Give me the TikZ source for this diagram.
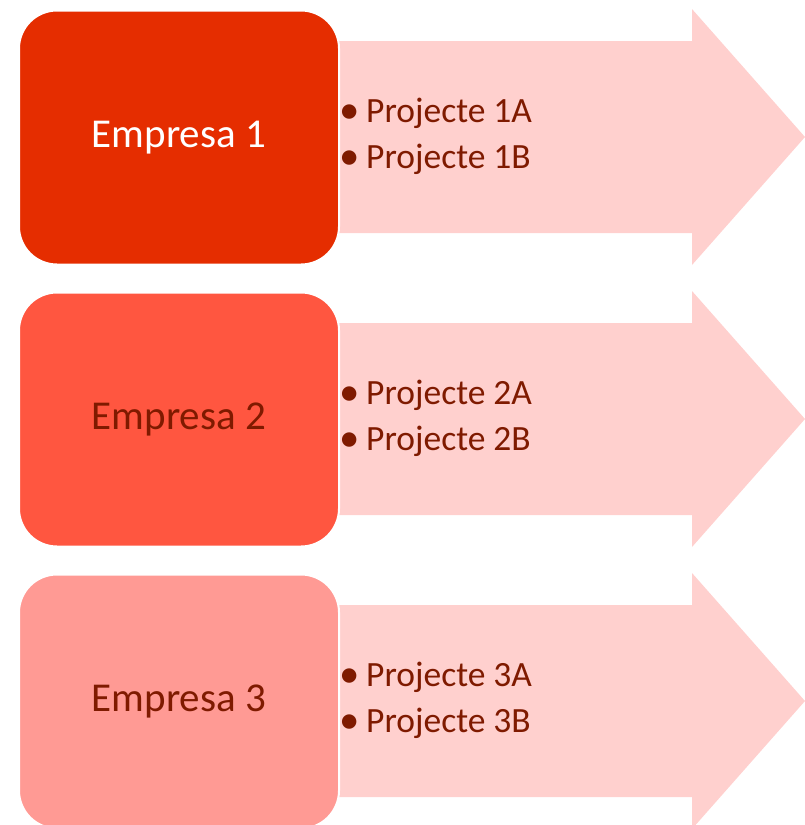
\documentclass[tikz,border=0pt]{standalone}
\usepackage{fontspec}
\setmainfont{Carlito}
\definecolor{arrowc}{HTML}{FFD0CE}
\definecolor{boxa}{HTML}{E52D00}
\definecolor{boxb}{HTML}{FF5640}
\definecolor{boxc}{HTML}{FF9A94}
\definecolor{txtd}{HTML}{7F1A00}
\newcommand{\bigbul}{\makebox[24pt][l]{\hspace{-3pt}\raisebox{-0.04em}{\scalebox{1.15}{\textbullet}}}}
\tikzset{
  company/.style={draw=white, line width=2pt, rounded corners=38pt, minimum width=320pt, minimum height=254pt, inner sep=0pt, anchor=north west, font=\fontsize{41}{48}\selectfont},
  items/.style={anchor=west, align=left, inner sep=0pt, text=txtd, font=\fontsize{35.5}{46}\selectfont},
}
\begin{document}
\begin{tikzpicture}[x=1pt,y=-1pt]
\useasboundingbox (0,0) rectangle (805,825);
\foreach \i/\c/\t/\n in {0/boxa/white/1, 1/boxb/txtd/2, 2/boxc/txtd/3}{
  \begin{scope}[yshift=-282*\i]
    \fill[arrowc] (337,41) -- (692,41) -- (692,9) -- (805,137) -- (692,265) -- (692,233) -- (337,233) -- cycle;
    \node[company, fill=\c, text=\t] (e\n) at (18,9.5) {Empresa \n};
    \node[items] (p\n) at (342,136) {\bigbul Projecte \n A\\\bigbul Projecte \n B};
  \end{scope}
}
\end{tikzpicture}
\end{document}
